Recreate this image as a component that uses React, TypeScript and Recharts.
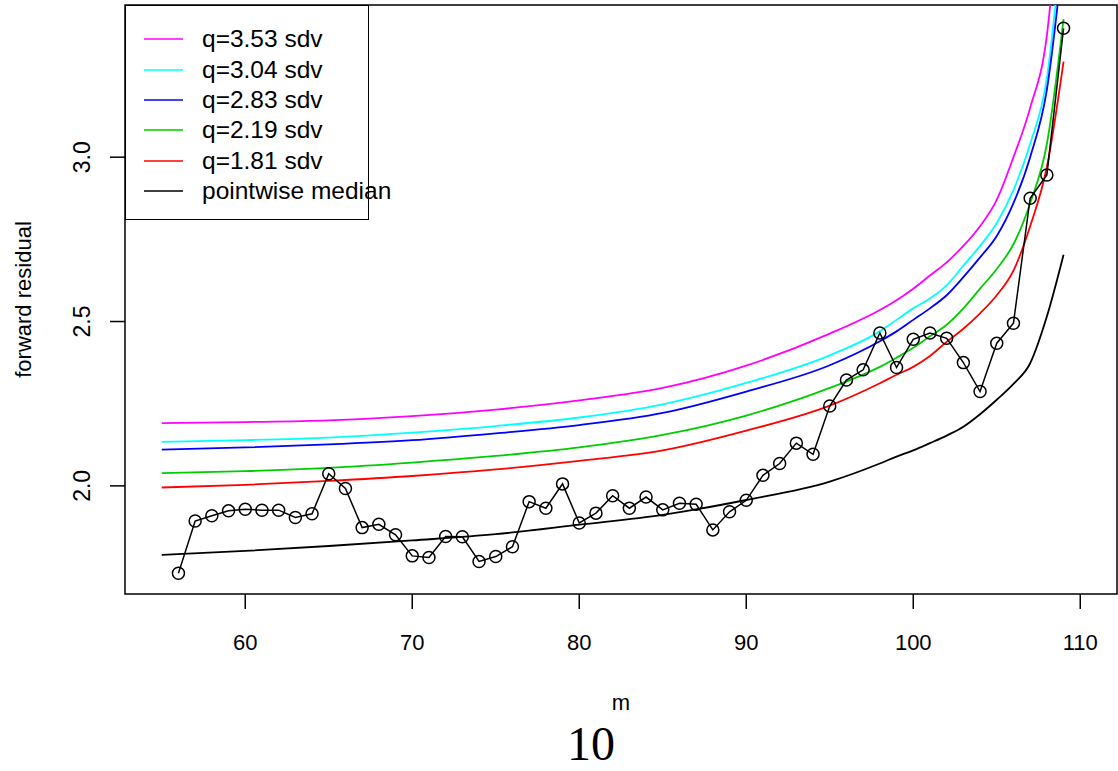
import { Line, LineChart, ReferenceArea, XAxis, YAxis } from 'recharts';

const FONT = '"Liberation Sans", Arial, Helvetica, sans-serif';

// observed forward residuals
const M_OBS = [
  56, 57, 58, 59, 60, 61, 62, 63, 64, 65, 66, 67, 68, 69, 70, 71, 72, 73, 74, 75, 76, 77, 78, 79, 80, 81, 82,
  83, 84, 85, 86, 87, 88, 89, 90, 91, 92, 93, 94, 95, 96, 97, 98, 99, 100, 101, 102, 103, 104, 105, 106, 107,
  108, 109,
];
const OBS = [
  1.734, 1.893, 1.909, 1.924, 1.929, 1.926, 1.926, 1.904, 1.915, 2.037, 1.992, 1.873, 1.883, 1.851, 1.787, 1.782,
  1.846, 1.845, 1.77, 1.785, 1.815, 1.952, 1.932, 2.006, 1.887, 1.917, 1.97, 1.932, 1.966, 1.927, 1.947, 1.944,
  1.866, 1.921, 1.956, 2.032, 2.068, 2.13, 2.096, 2.243, 2.322, 2.353, 2.465, 2.36, 2.446, 2.465, 2.449, 2.375,
  2.287, 2.434, 2.495, 2.875, 2.946, 3.392,
];

// envelopes, read at these m
const M_ENV = [55, 60, 65, 70, 75, 80, 85, 90, 95, 98, 99, 100, 101, 102, 103, 104, 105, 106, 107, 108, 109];
const MEDIAN = [
  1.79, 1.802, 1.817, 1.834, 1.853, 1.882, 1.912, 1.957, 2.013, 2.068, 2.089, 2.108, 2.13, 2.153, 2.18, 2.218,
  2.262, 2.31, 2.373, 2.515, 2.703,
];
const Q181 = [
  1.995, 2.003, 2.015, 2.03, 2.05, 2.076, 2.108, 2.168, 2.244, 2.312, 2.338, 2.362, 2.395, 2.438, 2.478, 2.525,
  2.58, 2.655, 2.79, 2.97, 3.291,
];
const Q219 = [
  2.039, 2.045, 2.055, 2.071, 2.091, 2.117, 2.155, 2.214, 2.298, 2.362, 2.39, 2.42, 2.455, 2.49, 2.54, 2.6, 2.66,
  2.735, 2.86, 3.04, 3.42,
];
const Q283 = [
  2.11, 2.117, 2.126, 2.139, 2.16, 2.185, 2.222, 2.287, 2.367, 2.44, 2.47, 2.505, 2.54, 2.58, 2.635, 2.695, 2.76,
  2.86, 3.0, 3.205, 3.63,
];
const Q304 = [
  2.134, 2.139, 2.147, 2.162, 2.182, 2.208, 2.248, 2.313, 2.397, 2.47, 2.505, 2.54, 2.57, 2.61, 2.67, 2.73, 2.8,
  2.9, 3.04, 3.24, 3.72,
];
const Q353 = [
  2.191, 2.194, 2.199, 2.212, 2.232, 2.26, 2.298, 2.366, 2.463, 2.535, 2.565, 2.6, 2.64, 2.68, 2.73, 2.79, 2.87,
  3.0, 3.15, 3.37, 3.95,
];

const ENV_LABELS = ['q=3.53 sdv', 'q=3.04 sdv', 'q=2.83 sdv', 'q=2.19 sdv', 'q=1.81 sdv', 'pointwise median'];
const ENV_COLORS = ['#FF00FF', '#00FFFF', '#0000FF', '#00CD00', '#FF0000', '#000000'];
const ENV_VALUES = [Q353, Q304, Q283, Q219, Q181, MEDIAN];

const X_TICKS = [60, 70, 80, 90, 100, 110];
const Y_TICKS = [2.0, 2.5, 3.0];
const X_DOMAIN: [number, number] = [52.8, 112.2];
const Y_DOMAIN: [number, number] = [1.671, 3.463];

const obsData = M_OBS.map((m, i) => ({ m, v: OBS[i] }));
const envData = ENV_VALUES.map((vals) => M_ENV.map((m, i) => ({ m, v: vals[i] })));

function YTick(props: any) {
  const { x, y, payload } = props;
  const bx = x - 18;
  return (
    <text
      x={bx}
      y={y}
      transform={`rotate(-90 ${bx} ${y})`}
      textAnchor="middle"
      fill="#000"
      fontSize={23}
      fontFamily={FONT}
    >
      {payload.value.toFixed(1)}
    </text>
  );
}

function YLabel(props: any) {
  const vb = props.viewBox;
  const cy = vb.y + vb.height / 2;
  return (
    <text x={31} y={cy} transform={`rotate(-90 31 ${cy})`} textAnchor="middle" fontSize={22} fontFamily={FONT} fill="#000">
      forward residual
    </text>
  );
}

function XLabel(props: any) {
  const vb = props.viewBox;
  return (
    <text x={vb.x + vb.width / 2} y={vb.y + 116} textAnchor="middle" fontSize={22} fontFamily={FONT} fill="#000">
      m
    </text>
  );
}

function LegendBox() {
  return (
    <div
      style={{
        position: 'absolute',
        left: 125,
        top: 5,
        width: 244,
        height: 215,
        boxSizing: 'border-box',
        border: '1.5px solid #000',
        background: '#fff',
        paddingTop: 18,
        fontFamily: FONT,
        fontSize: 24.5,
      }}
    >
      {ENV_LABELS.map((label, i) => (
        <div key={label} style={{ display: 'flex', alignItems: 'center', height: 30.4 }}>
          <svg width={76} height={10} style={{ flex: 'none' }}>
            <line x1={18} x2={57} y1={5} y2={5} stroke={ENV_COLORS[i]} strokeWidth={1.5} />
          </svg>
          <span style={{ color: '#000', whiteSpace: 'nowrap' }}>{label}</span>
        </div>
      ))}
    </div>
  );
}

export default function App() {
  return (
    <div style={{ position: 'absolute', left: 0, top: 0, width: 1118, height: 771, background: '#fff', overflow: 'hidden' }}>
      <LineChart width={1118} height={771} margin={{ top: 5, right: 1, bottom: 0, left: 0 }}>
        <XAxis
          type="number"
          dataKey="m"
          domain={X_DOMAIN}
          ticks={X_TICKS}
          allowDataOverflow
          height={177}
          axisLine={false}
          tickSize={15}
          tickMargin={25}
          tickLine={{ stroke: '#000', strokeWidth: 1.5 }}
          tick={{ fill: '#000', fontSize: 22, fontFamily: FONT }}
          label={XLabel}
        />
        <YAxis
          type="number"
          domain={Y_DOMAIN}
          ticks={Y_TICKS}
          allowDataOverflow
          width={125}
          axisLine={false}
          tickSize={15}
          tickLine={{ stroke: '#000', strokeWidth: 1.5 }}
          tick={<YTick />}
          label={YLabel}
        />
        <ReferenceArea
          x1={X_DOMAIN[0]}
          x2={X_DOMAIN[1]}
          y1={Y_DOMAIN[0]}
          y2={Y_DOMAIN[1]}
          fill="none"
          stroke="#000"
          strokeWidth={1.5}
          ifOverflow="visible"
        />
        {envData.map((d, i) => (
          <Line
            key={ENV_LABELS[i]}
            data={d}
            dataKey="v"
            type="monotone"
            stroke={ENV_COLORS[i]}
            strokeWidth={1.8}
            dot={false}
            isAnimationActive={false}
          />
        ))}
        <Line
          data={obsData}
          dataKey="v"
          type="linear"
          stroke="#000"
          strokeWidth={1.5}
          dot={{ r: 6, stroke: '#000', strokeWidth: 1.5, fill: 'none' }}
          isAnimationActive={false}
        />
      </LineChart>
      <LegendBox />
      <div
        style={{
          position: 'absolute',
          left: 541,
          width: 100,
          top: 724,
          textAlign: 'center',
          fontFamily: '"Liberation Serif", "Times New Roman", serif',
          fontSize: 48,
          lineHeight: '40px',
          color: '#000',
        }}
      >
        10
      </div>
    </div>
  );
}
